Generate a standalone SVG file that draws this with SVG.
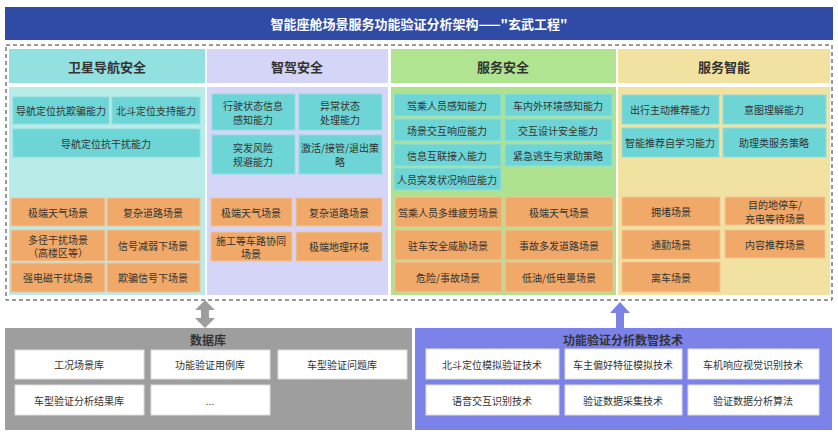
<svg xmlns="http://www.w3.org/2000/svg" width="838" height="438" viewBox="0 0 838 438">
<style>
text{font-family:"Noto Sans CJK SC","Noto Sans",sans-serif;text-anchor:middle;dominant-baseline:central;fill:#333}
.c{font-size:10px}
.h{font-size:13px;font-weight:bold}
.cy{fill:#6DD5D5;stroke:#8FE0DD;stroke-width:1}
.or{fill:#F0A968;stroke:#F4C39A;stroke-width:1}
.wb{fill:#fff;stroke:#ddd;stroke-width:1}
</style>
<rect x="0" y="0" width="838" height="438" fill="#fff"/>
<g id="title"><rect x="5" y="7" width="828" height="33" fill="#2F4BA5"/><text x="419" y="23" class="h" style="fill:#fff">智能座舱场景服务功能验证分析架构——"玄武工程"</text></g>
<rect x="6" y="45" width="826" height="255" fill="none" stroke="#333" stroke-dasharray="4,3"/>
<g id="col1">
<rect x="9" y="49" width="196" height="34" fill="#93E0E0"/><text x="107" y="66" class="h">卫星导航安全</text>
<rect x="9" y="87" width="196" height="208" fill="#B9EBE8"/>
<rect x="13" y="97" width="96" height="27" class="cy"/><text x="61" y="110.5" class="c">导航定位抗欺骗能力</text>
<rect x="112" y="97" width="88" height="27" class="cy"/><text x="156" y="110.5" class="c">北斗定位支持能力</text>
<rect x="13" y="129" width="187" height="28" class="cy"/><text x="106" y="143" class="c">导航定位抗干扰能力</text>
<rect x="11" y="198" width="94" height="28" class="or"/><text x="58" y="212" class="c">极端天气场景</text>
<rect x="107" y="198" width="93" height="28" class="or"/><text x="153" y="212" class="c">复杂道路场景</text>
<rect x="11" y="230" width="94" height="31" class="or"/><text x="58" y="239" class="c">多径干扰场景</text><text x="58" y="252.5" class="c">（高楼区等）</text>
<rect x="107" y="230" width="93" height="31" class="or"/><text x="153" y="245.5" class="c">信号减弱下场景</text>
<rect x="11" y="263" width="94" height="29" class="or"/><text x="58" y="277.5" class="c">强电磁干扰场景</text>
<rect x="107" y="263" width="93" height="29" class="or"/><text x="153" y="277.5" class="c">欺骗信号下场景</text>
</g>
<g id="col2">
<rect x="207" y="49" width="181" height="34" fill="#D4D5F7"/><text x="297" y="66" class="h">智驾安全</text>
<rect x="207" y="87" width="181" height="208" fill="#D4D5F7"/>
<rect x="212" y="94" width="83" height="36" class="cy"/><text x="253" y="105" class="c">行驶状态信息</text><text x="253" y="119" class="c">感知能力</text>
<rect x="299" y="94" width="83" height="36" class="cy"/><text x="340" y="105" class="c">异常状态</text><text x="340" y="119" class="c">处理能力</text>
<rect x="212" y="135" width="83" height="39" class="cy"/><text x="253" y="147.5" class="c">突发风险</text><text x="253" y="161.5" class="c">规避能力</text>
<rect x="299" y="135" width="83" height="39" class="cy"/><text x="340" y="147.5" class="c">激活/接管/退出策</text><text x="340" y="161.5" class="c">略</text>
<rect x="211" y="198" width="81" height="28" class="or"/><text x="251" y="212" class="c">极端天气场景</text>
<rect x="296" y="198" width="86" height="28" class="or"/><text x="339" y="212" class="c">复杂道路场景</text>
<rect x="211" y="232" width="81" height="29" class="or"/><text x="251" y="240" class="c">施工等车路协同</text><text x="251" y="253.5" class="c">场景</text>
<rect x="296" y="232" width="86" height="29" class="or"/><text x="339" y="246.5" class="c">极端地理环境</text>
</g>
<g id="col3">
<rect x="391" y="49" width="225" height="34" fill="#B1E490"/><text x="503" y="66" class="h">服务安全</text>
<rect x="391" y="87" width="225" height="208" fill="#AEE28E"/>
<rect x="394" y="94" width="107" height="22" class="cy"/><text x="447" y="105" class="c">驾乘人员感知能力</text>
<rect x="505" y="94" width="107" height="22" class="cy"/><text x="558" y="105" class="c">车内外环境感知能力</text>
<rect x="394" y="119" width="107" height="22" class="cy"/><text x="447" y="130" class="c">场景交互响应能力</text>
<rect x="505" y="119" width="107" height="22" class="cy"/><text x="558" y="130" class="c">交互设计安全能力</text>
<rect x="394" y="144" width="107" height="22" class="cy"/><text x="447" y="155" class="c">信息互联接入能力</text>
<rect x="505" y="144" width="107" height="22" class="cy"/><text x="558" y="155" class="c">紧急逃生与求助策略</text>
<rect x="394" y="168" width="107" height="22" class="cy"/><text x="447" y="179" class="c">人员突发状况响应能力</text>
<rect x="395" y="197" width="107" height="30" class="or"/><text x="448" y="212" class="c">驾乘人员多维疲劳场景</text>
<rect x="505" y="197" width="108" height="30" class="or"/><text x="559" y="212" class="c">极端天气场景</text>
<rect x="395" y="230" width="107" height="30" class="or"/><text x="448" y="245" class="c">驻车安全威胁场景</text>
<rect x="505" y="230" width="108" height="30" class="or"/><text x="559" y="245" class="c">事故多发道路场景</text>
<rect x="395" y="262" width="107" height="30" class="or"/><text x="448" y="277" class="c">危险/事故场景</text>
<rect x="505" y="262" width="108" height="30" class="or"/><text x="559" y="277" class="c">低油/低电量场景</text>
</g>
<g id="col4">
<rect x="618" y="49" width="212" height="34" fill="#F1E2A2"/><text x="724" y="66" class="h">服务智能</text>
<rect x="618" y="87" width="212" height="208" fill="#F1E2A2"/>
<rect x="622" y="95" width="97" height="29" class="cy"/><text x="670" y="109.5" class="c">出行主动推荐能力</text>
<rect x="723" y="95" width="103" height="29" class="cy"/><text x="774" y="109.5" class="c">意图理解能力</text>
<rect x="622" y="128" width="97" height="29" class="cy"/><text x="670" y="142.5" class="c">智能推荐自学习能力</text>
<rect x="723" y="128" width="103" height="29" class="cy"/><text x="774" y="142.5" class="c">助理类服务策略</text>
<rect x="622" y="197" width="98" height="29" class="or"/><text x="671" y="211.5" class="c">拥堵场景</text>
<rect x="725" y="197" width="100" height="28" class="or"/><text x="775" y="204.5" class="c">目的地停车/</text><text x="775" y="218" class="c">充电等待场景</text>
<rect x="622" y="230" width="98" height="29" class="or"/><text x="671" y="244.5" class="c">通勤场景</text>
<rect x="725" y="230" width="100" height="28" class="or"/><text x="775" y="244" class="c">内容推荐场景</text>
<rect x="622" y="262" width="98" height="30" class="or"/><text x="671" y="277" class="c">离车场景</text>
</g>
<g id="connectors">
<polygon points="205,300 215,310 209,310 209,318 215,318 205,328 195,318 201,318 201,310 195,310" fill="#9E9E9E"/>
<polygon points="620,302 630,313 624,313 624,328 616,328 616,313 610,313" fill="#7B82E8"/>
</g>
<g id="db">
<rect x="5" y="328" width="407" height="102" fill="#9E9E9E"/><text x="208" y="339" class="h" style="font-size:12px">数据库</text>
<rect x="15" y="350" width="129" height="29" class="wb"/><text x="79" y="364.5" class="c">工况场景库</text>
<rect x="151" y="350" width="119" height="29" class="wb"/><text x="210" y="364.5" class="c">功能验证用例库</text>
<rect x="278" y="350" width="129" height="29" class="wb"/><text x="342" y="364.5" class="c">车型验证问题库</text>
<rect x="15" y="385" width="129" height="30" class="wb"/><text x="79" y="400" class="c">车型验证分析结果库</text>
<rect x="151" y="385" width="119" height="30" class="wb"/><text x="210" y="400" class="c">...</text>
</g>
<g id="tech">
<rect x="415" y="328" width="417" height="102" fill="#7B82E8"/><text x="623" y="339" class="h" style="font-size:12px">功能验证分析数智技术</text>
<rect x="426" y="349" width="133" height="30" class="wb"/><text x="492" y="364" class="c">北斗定位模拟验证技术</text>
<rect x="565" y="349" width="117" height="30" class="wb"/><text x="623" y="364" class="c">车主偏好特征模拟技术</text>
<rect x="688" y="349" width="131" height="30" class="wb"/><text x="753" y="364" class="c">车机响应视觉识别技术</text>
<rect x="426" y="385" width="133" height="30" class="wb"/><text x="492" y="400" class="c">语音交互识别技术</text>
<rect x="565" y="385" width="117" height="30" class="wb"/><text x="623" y="400" class="c">验证数据采集技术</text>
<rect x="688" y="385" width="131" height="30" class="wb"/><text x="753" y="400" class="c">验证数据分析算法</text>
</g>
</svg>
